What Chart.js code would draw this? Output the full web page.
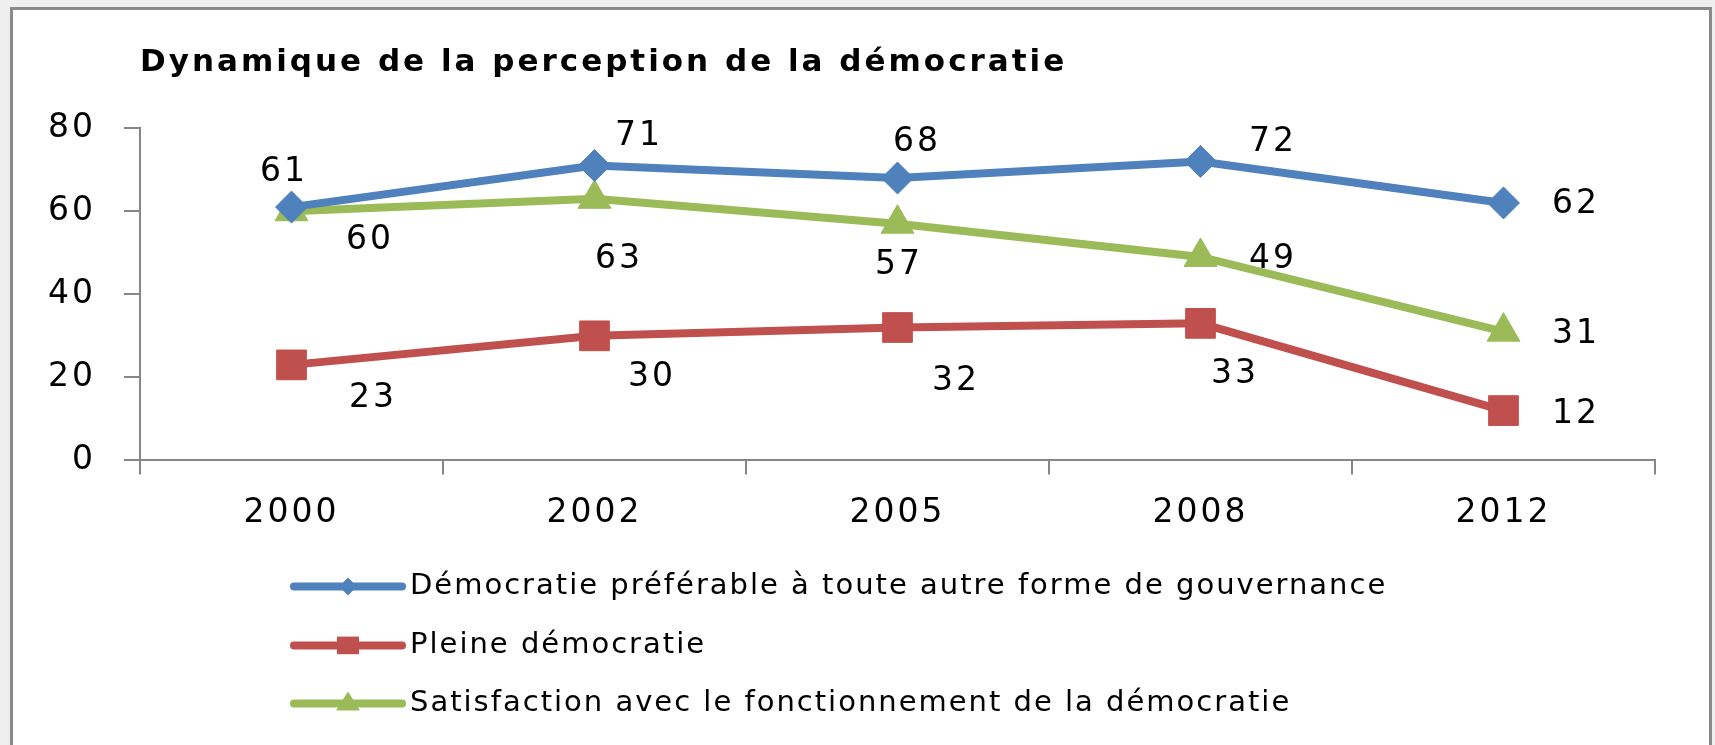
<!DOCTYPE html>
<html lang="fr">
<head>
<meta charset="utf-8">
<title>Dynamique de la perception de la démocratie</title>
<script src="https://cdn.jsdelivr.net/npm/chart.js@4.4.1/dist/chart.umd.min.js"></script>
<style>
  html, body { margin: 0; padding: 0; background: #efefef; }
  #wrap { width: 1715px; height: 745px; }
</style>
</head>
<body>
<div id="wrap"><canvas id="perceptionChart" width="1715" height="745"></canvas></div>
<script>
// Données
const annees = ["2000", "2002", "2005", "2008", "2012"];
const democratiePreferable = [61, 71, 68, 72, 62];
const pleineDemocratie = [23, 30, 32, 33, 12];
const satisfaction = [60, 63, 57, 49, 31];
const yTicks = [0, 20, 40, 60, 80];

const nomsSeries = [
  "Démocratie préférable à toute autre forme de gouvernance",
  "Pleine démocratie",
  "Satisfaction avec le fonctionnement de la démocratie",
];

// Décalage des étiquettes (px) par rapport au point, comme dans l'original
const decalages = [
  [[-9, -35], [43, -29], [18, -36], [71, -19], [71, 1]],
  [[80, 34], [56, 42], [57, 54], [33, 51], [71, 4]],
  [[77, 29], [23, 61], [0, 42], [71, 2], [71, 3]],
];

const FONT = "'DejaVu Sans', Verdana, sans-serif";
const AXE = "#868686";

// Fond + cadre gris
const cadre = {
  id: "cadre",
  beforeDraw(chart) {
    const ctx = chart.ctx;
    ctx.save();
    ctx.fillStyle = "#efefef";
    ctx.fillRect(0, 0, chart.width, chart.height);
    ctx.fillStyle = "#ffffff";
    ctx.fillRect(10, 7, chart.width - 13, chart.height);
    ctx.strokeStyle = "#8a8a8a";
    ctx.lineWidth = 3;
    ctx.strokeRect(11.5, 8.5, chart.width - 16, chart.height + 10);
    ctx.restore();
    ctx.letterSpacing = "3px";
  },
};

// Étiquettes de valeurs
const etiquettes = {
  id: "etiquettes",
  afterDatasetsDraw(chart) {
    const ctx = chart.ctx;
    ctx.save();
    ctx.font = "33px " + FONT;
    ctx.fillStyle = "#000";
    ctx.textAlign = "center";
    ctx.textBaseline = "middle";
    ctx.letterSpacing = "3px";
    chart.data.datasets.forEach((ds, i) => {
      chart.getDatasetMeta(i).data.forEach((pt, j) => {
        const d = decalages[i][j];
        ctx.fillText(String(ds.data[j]), pt.x + d[0] + 1.5, pt.y + d[1]);
      });
    });
    ctx.restore();
  },
};

function marqueur(ctx, style, x, y, r) {
  ctx.beginPath();
  if (style === "rectRot") {
    ctx.moveTo(x, y - r);
    ctx.lineTo(x + r, y);
    ctx.lineTo(x, y + r);
    ctx.lineTo(x - r, y);
  } else if (style === "rect") {
    ctx.rect(x - r, y - r * 0.8, 2 * r, 1.6 * r);
  } else {
    ctx.moveTo(x, y - r);
    ctx.lineTo(x + r, y + r * 0.6);
    ctx.lineTo(x - r, y + r * 0.6);
  }
  ctx.closePath();
  ctx.fill();
}

// Légende verticale sous le graphique
const legende = {
  id: "legende",
  afterDraw(chart) {
    const ctx = chart.ctx;
    const area = chart.chartArea;
    const x0 = area.left + 154;
    const x1 = area.left + 262;
    const rangs = [126, 185, 243];
    const tailles = [9, 11, 12];
    ctx.save();
    ctx.font = "29px " + FONT;
    ctx.textBaseline = "middle";
    ctx.textAlign = "left";
    ctx.letterSpacing = "2px";
    chart.data.datasets.forEach((ds, i) => {
      const y = area.bottom + rangs[i];
      ctx.strokeStyle = ds.borderColor;
      ctx.fillStyle = ds.borderColor;
      ctx.lineWidth = 8;
      ctx.lineCap = "round";
      ctx.beginPath();
      ctx.moveTo(x0, y);
      ctx.lineTo(x1, y);
      ctx.stroke();
      marqueur(ctx, ds.pointStyle, (x0 + x1) / 2, y, tailles[i]);
      ctx.fillStyle = "#000";
      ctx.fillText(ds.label, x1 + 8, y);
    });
    ctx.restore();
  },
};

Chart.defaults.color = "#000";
Chart.defaults.font.family = FONT;

new Chart(document.getElementById("perceptionChart"), {
  type: "line",
  data: {
    labels: annees,
    datasets: [
      {
        label: nomsSeries[0],
        data: democratiePreferable,
        borderColor: "#4F81BD",
        backgroundColor: "#4F81BD",
        borderWidth: 8,
        pointStyle: "rectRot",
        pointRadius: 16,
        pointBorderWidth: 1,
        tension: 0,
      },
      {
        label: nomsSeries[1],
        data: pleineDemocratie,
        borderColor: "#C0504D",
        backgroundColor: "#C0504D",
        borderWidth: 8,
        pointStyle: "rect",
        pointRadius: 21,
        pointBorderWidth: 1,
        tension: 0,
      },
      {
        label: nomsSeries[2],
        data: satisfaction,
        borderColor: "#9BBB59",
        backgroundColor: "#9BBB59",
        borderWidth: 8,
        pointStyle: "triangle",
        pointRadius: 19,
        pointBorderWidth: 1,
        tension: 0,
      },
    ],
  },
  options: {
    responsive: false,
    animation: false,
    layout: {
      padding: { left: 0, right: 60, top: 0, bottom: 193 },
    },
    plugins: {
      legend: { display: false },
      tooltip: { enabled: false },
      title: {
        display: true,
        text: "Dynamique de la perception de la démocratie",
        align: "start",
        fullSize: false,
        color: "#000",
        font: { size: 31, weight: "bold", family: FONT },
        padding: { top: 44, bottom: 47 },
      },
    },
    scales: {
      x: {
        offset: true,
        grid: {
          offset: true,
          drawOnChartArea: false,
          tickLength: 14,
          color: AXE,
          lineWidth: 2,
        },
        border: { color: AXE, width: 2 },
        ticks: {
          padding: 19,
          font: { size: 33, family: FONT },
          color: "#000",
          maxRotation: 0,
        },
      },
      y: {
        min: yTicks[0],
        max: yTicks[yTicks.length - 1],
        afterFit(scale) {
          scale.width = 140;
        },
        afterBuildTicks(scale) {
          scale.ticks = yTicks.map((v) => ({ value: v }));
        },
        grid: {
          drawOnChartArea: false,
          tickLength: 16,
          color: AXE,
          lineWidth: 2,
        },
        border: { color: AXE, width: 2 },
        ticks: {
          padding: 28,
          font: { size: 33, family: FONT },
          color: "#000",
        },
      },
    },
  },
  plugins: [cadre, etiquettes, legende],
});
</script>
</body>
</html>
